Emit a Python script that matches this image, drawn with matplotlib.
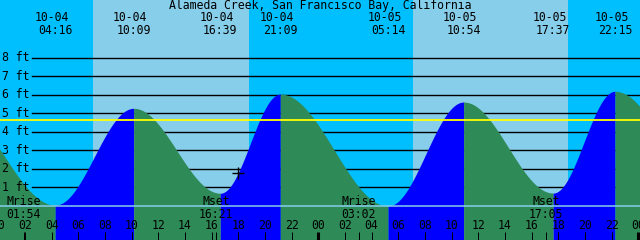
import numpy as np
import matplotlib
matplotlib.use("Agg")
import matplotlib.pyplot as plt
import matplotlib.transforms as mtransforms

# ---- data (hours since 10-04 00:00, heights in ft) ----
title = "Alameda Creek, San Francisco Bay, California"
ext_hours = [-3.5, 4.267, 10.15, 16.65, 21.15, 29.233, 34.9, 41.617, 46.25, 54.2]
ext_heights = [5.5, 0.05, 5.28, 0.69, 6.05, 0.0, 5.62, 0.70, 6.2, -0.1]
label_dates = ["10-04", "10-04", "10-04", "10-04", "10-05", "10-05", "10-05", "10-05"]
label_times = ["04:16", "10:09", "16:39", "21:09", "05:14", "10:54", "17:37", "22:15"]
label_hours = [4.267, 10.15, 16.65, 21.15, 29.233, 34.9, 41.617, 46.25]
day_starts = [7.117, 31.133]
day_ends = [18.8, 42.767]
moon_names = ["Mrise", "Mset", "Mrise", "Mset"]
moon_times = ["01:54", "16:21", "03:02", "17:05"]
moon_hours = [1.9, 16.35, 27.033, 41.083]
ft_levels = [1, 2, 3, 4, 5, 6, 7, 8]
mhhw = 4.63
now_hour, now_height = 18.0, 1.8
hour_ticks = list(range(0, 49, 2))

# ---- styles ----
NIGHT = "#00bfff"
DAY = "#87ceeb"
FALL = "#2e8b57"
RISE = "#0000ff"
FONT = "DejaVu Sans Mono"
FS = 8.3
H = 240.0


def yax(px):
    return 1 - px / H


fig = plt.figure(figsize=(6.4, 2.4), dpi=100)
ax = fig.add_axes([0, 0, 1, 1])
ax.set_xlim(0.1275, 48.13)
ax.set_ylim(-1.838, 11.135)
ax.set_facecolor(NIGHT)
for s in ax.spines.values():
    s.set_visible(False)
ax.set_xticks([])
ax.set_yticks([])

for a, b in zip(day_starts, day_ends):
    ax.axvspan(a, b, color=DAY, zorder=0, lw=0)

lt = mtransforms.blended_transform_factory(ax.transAxes, ax.transData)
off = mtransforms.offset_copy(lt, fig=fig, x=0, y=-3.4, units="dots")
for lv in ft_levels:
    ax.axhline(lv, xmin=0.05, xmax=1, color="black", lw=1.0, zorder=1)
    ax.text(2 / 640, lv, f"{lv} ft", transform=off,
            ha="left", va="baseline", fontsize=FS, family=FONT, zorder=5)

ybot = -1.838
for i in range(len(ext_hours) - 1):
    t0, t1 = ext_hours[i], ext_hours[i + 1]
    h0, h1 = ext_heights[i], ext_heights[i + 1]
    t = np.linspace(t0, t1, 200)
    h = h0 + (h1 - h0) * (1 - np.cos(np.pi * (t - t0) / (t1 - t0))) / 2
    col = RISE if h1 > h0 else FALL
    ax.fill_between(t, ybot, h, color=col, lw=0, zorder=2)

ax.axhline(mhhw, color="yellow", lw=1.3, zorder=3)
ax.axhline(0, color=DAY, lw=1.1, zorder=3)

ax.plot([now_hour], [now_height], marker="+", color="black", ms=9, mew=1.0, zorder=6)

bt = mtransforms.blended_transform_factory(ax.transData, ax.transAxes)
ax.text(0.5, yax(9), title, transform=ax.transAxes, ha="center", va="baseline",
        fontsize=FS, family=FONT, zorder=5)
for d, tm, hr in zip(label_dates, label_times, label_hours):
    ax.text(hr - 0.25, yax(21), d, transform=bt, ha="center", va="baseline", fontsize=FS, family=FONT, zorder=5)
    ax.text(hr, yax(34), tm, transform=bt, ha="center", va="baseline", fontsize=FS, family=FONT, zorder=5)

for nm, tm, hr in zip(moon_names, moon_times, moon_hours):
    ax.text(hr, yax(205), nm, transform=bt, ha="center", va="baseline", fontsize=FS, family=FONT, zorder=5)
    ax.text(hr, yax(218.3), tm, transform=bt, ha="center", va="baseline", fontsize=FS, family=FONT, zorder=5)
    ax.plot([hr, hr], [0, 8 / H], transform=bt, color="black", lw=0.72, zorder=5, solid_capstyle="butt")

for hr in hour_ticks:
    ax.text(hr, yax(229.3), f"{hr % 24:02d}", transform=bt, ha="center", va="baseline",
            fontsize=FS, family=FONT, zorder=5, clip_on=False)
    lw = 2.2 if hr % 24 == 0 else 0.72
    ax.plot([hr, hr], [0, 8 / H], transform=bt, color="black", lw=lw, zorder=5, solid_capstyle="butt")

fig.savefig("out.png", dpi=100)
